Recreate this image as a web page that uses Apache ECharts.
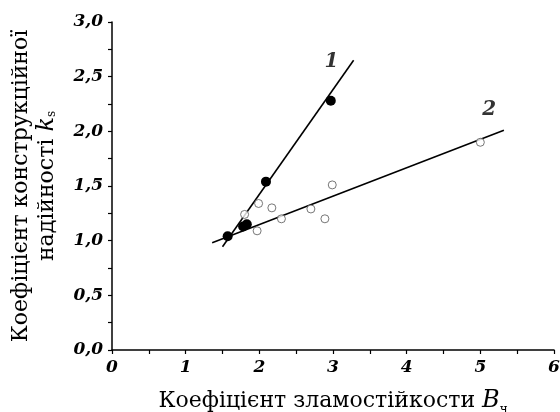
<!DOCTYPE html>
<html>
<head>
<meta charset="utf-8">
<script src="https://cdn.jsdelivr.net/npm/echarts@6/dist/echarts.min.js"></script>
<style>
  html, body { margin: 0; padding: 0; background: #fff; }
  #chart { width: 560px; height: 412px; }
</style>
</head>
<body>
<div id="chart"></div>
<script>
// точки серії 1 (зафарбовані)
var series1 = [[1.57, 1.04], [1.78, 1.13], [1.83, 1.15], [2.09, 1.54], [2.97, 2.28]];
// точки серії 2 (порожні)
var series2 = [[1.80, 1.24], [1.99, 1.34], [2.17, 1.30], [2.30, 1.20], [1.97, 1.09],
               [2.70, 1.29], [2.99, 1.51], [2.89, 1.20], [5.00, 1.90]];
// прямі апроксимації (кінці)
var fit1 = [[1.50, 0.945], [3.28, 2.65]];
var fit2 = [[1.36, 0.98], [5.32, 2.01]];
// підписи кривих
var curveLabels = [[2.98, 2.64, '1'], [5.12, 2.20, '2']];

var chart = echarts.init(document.getElementById('chart'));
var serif = 'DejaVu Serif';

var option = {
  animation: false,
  grid: { left: 112, right: 6, top: 22, bottom: 62, containLabel: false, outerBoundsMode: 'none' },
  xAxis: {
    type: 'value', min: 0, max: 6, interval: 1,
    axisLine: { lineStyle: { color: '#000', width: 1.5 } },
    axisTick: { show: true, length: 4, lineStyle: { color: '#000', width: 1.2 } },
    minorTick: { show: true, splitNumber: 2, length: 4, lineStyle: { color: '#000', width: 1.2 } },
    splitLine: { show: false },
    axisLabel: { color: '#000', fontFamily: serif, fontStyle: 'italic', fontWeight: 'bold', fontSize: 17, margin: 9 },
    name: 'Коефіцієнт зламостійкости {i|B}{s|ч}',
    nameLocation: 'middle', nameGap: 36,
    nameTextStyle: {
      color: '#000', fontFamily: serif, fontSize: 22,
      rich: {
        i: { fontFamily: serif, fontStyle: 'italic', fontSize: 24, color: '#000' },
        s: { fontFamily: serif, fontSize: 12, color: '#000', padding: [18, 0, 0, 0] }
      }
    }
  },
  yAxis: {
    type: 'value', min: 0, max: 3, interval: 0.5,
    axisLine: { show: true, lineStyle: { color: '#000', width: 1.5 } },
    axisTick: { show: true, length: 4, lineStyle: { color: '#000', width: 1.2 } },
    minorTick: { show: true, splitNumber: 2, length: 4, lineStyle: { color: '#000', width: 1.2 } },
    splitLine: { show: false },
    axisLabel: {
      color: '#000', fontFamily: serif, fontStyle: 'italic', fontWeight: 'bold', fontSize: 17, margin: 9,
      formatter: function (v) { return v.toFixed(1).replace('.', ','); }
    },
    name: 'Коефіцієнт конструкційної\nнадійності {i|k}{s|s}',
    nameLocation: 'middle', nameGap: 52, nameRotate: 90,
    nameTextStyle: {
      color: '#000', fontFamily: serif, fontSize: 22, lineHeight: 26,
      rich: {
        i: { fontFamily: serif, fontStyle: 'italic', fontSize: 24, color: '#000', lineHeight: 26 },
        s: { fontFamily: serif, fontSize: 12, color: '#000', padding: [10, 0, 0, 0], lineHeight: 26 }
      }
    }
  },
  series: [
    {
      type: 'line', data: fit1, symbol: 'none',
      lineStyle: { color: '#000', width: 1.6 }, z: 2
    },
    {
      type: 'line', data: fit2, symbol: 'none',
      lineStyle: { color: '#000', width: 1.6 }, z: 2
    },
    {
      type: 'scatter', data: series2, symbol: 'circle', symbolSize: 8,
      itemStyle: { color: '#fff', borderColor: '#555', borderWidth: 1 }, z: 3
    },
    {
      type: 'scatter', data: series1, symbol: 'circle', symbolSize: 10,
      itemStyle: { color: '#000', opacity: 1 }, z: 4
    },
    {
      type: 'scatter', data: curveLabels, symbolSize: 0,
      label: {
        show: true, position: 'inside',
        formatter: function (p) { return p.data[2]; },
        color: '#000', fontFamily: serif, fontStyle: 'italic', fontWeight: 'bold', fontSize: 20
      }, z: 5
    }
  ]
};

chart.setOption(option);
</script>
</body>
</html>
